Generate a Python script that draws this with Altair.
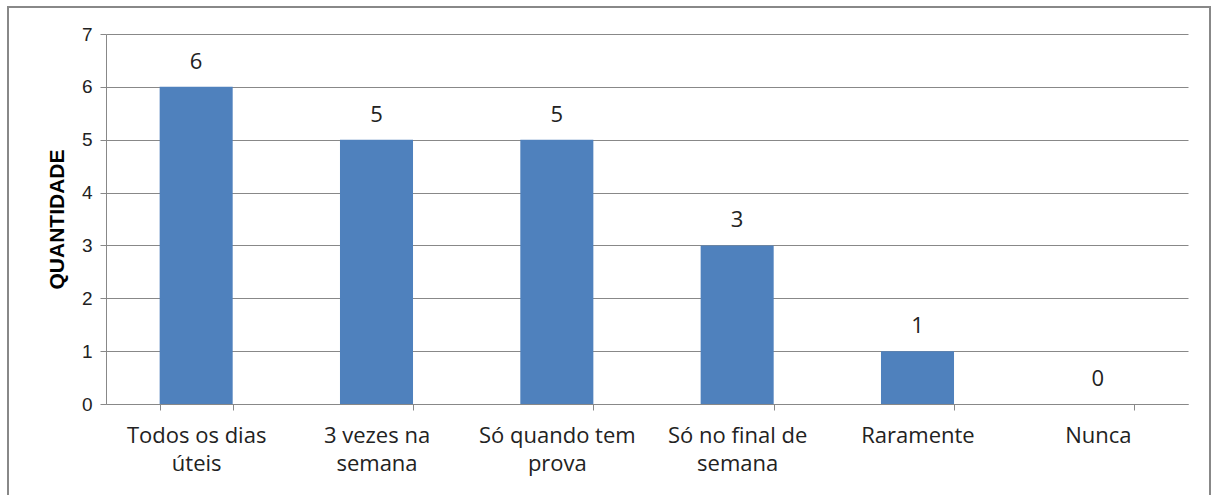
import altair as alt
import pandas as pd

categories = ["Todos os dias|úteis", "3 vezes na|semana", "Só quando tem|prova",
              "Só no final de|semana", "Raramente", "Nunca"]
values = [6, 5, 5, 3, 1, 0]

df = pd.DataFrame({"cat": categories, "val": values})

x = alt.X("cat:N", sort=categories, title=None,
          scale=alt.Scale(paddingInner=0.595, paddingOuter=0.2975),
          axis=alt.Axis(labelExpr="split(datum.label, '|')", labelAngle=0,
                        labelFont="Open Sans", labelFontSize=22, labelColor="#222",
                        labelLineHeight=28, labelPadding=15,
                        tickBand="extent", tickSize=6, tickColor="#888",
                        domainColor="#888", grid=False))
y = alt.Y("val:Q", title="QUANTIDADE",
          scale=alt.Scale(domain=[0, 7], nice=False),
          axis=alt.Axis(values=list(range(8)), format="d", tickSize=6, tickColor="#888",
                        domainColor="#888", gridColor="#888", gridWidth=1,
                        labelFont="Liberation Sans", labelFontSize=19, labelColor="#222",
                        labelPadding=8,
                        titleFont="Liberation Sans", titleFontSize=21, titleFontWeight="bold",
                        titleColor="#000", titlePadding=14))

bars = alt.Chart(df).mark_bar(color="#4F81BD").encode(x=x, y=y)
labels = alt.Chart(df).mark_text(dy=-25, font="Open Sans", fontSize=22, color="#222").encode(
    x=alt.X("cat:N", sort=categories), y="val:Q", text="val:Q")

border = alt.Chart(pd.DataFrame({"a": [0]})).mark_rect(
    fill=None, stroke="#888", strokeWidth=2, clip=False).encode(
    x=alt.value(-98), x2=alt.value(1104), y=alt.value(-27), y2=alt.value(480))

chart = alt.layer(bars, labels, border).properties(
    width=1082, height=370,
    autosize=alt.AutoSizeParams(type="none"),
    padding={"left": 106, "top": 34, "right": 24, "bottom": 91},
).configure_view(stroke=None)

chart.save("out.html", embed_options={"renderer": "svg", "actions": False})
